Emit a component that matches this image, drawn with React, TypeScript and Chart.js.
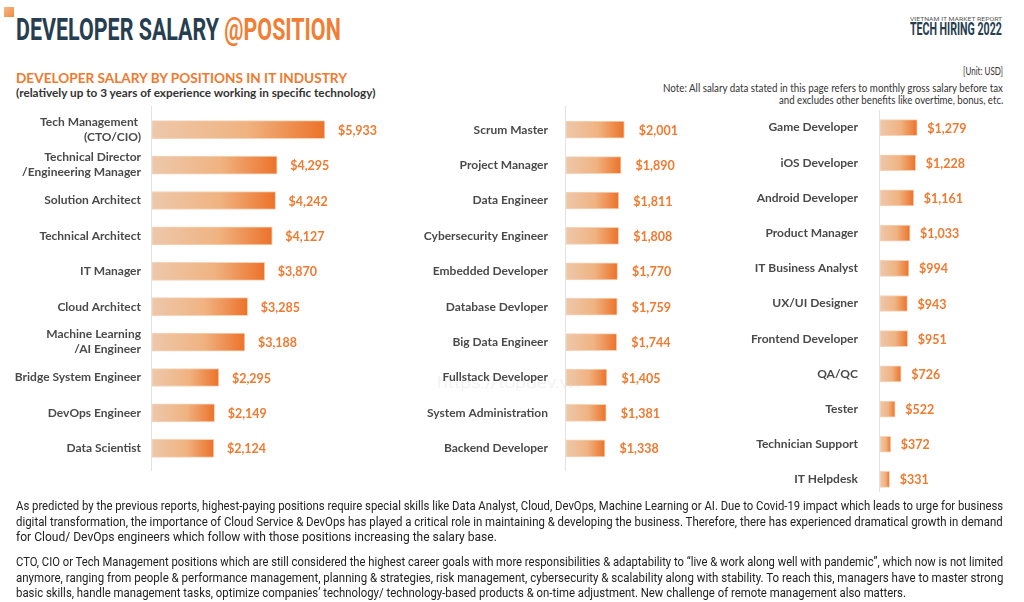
import React, { useEffect, useLayoutEffect, useRef, useState } from 'react';
import { Chart, registerables } from 'chart.js';

Chart.register(...registerables);

// ---------- DATA ----------
const col1Labels: (string | string[])[] = [
  ['Tech Management ', '(CTO/CIO)'],
  ['Technical Director', '/Engineering Manager'],
  'Solution Architect',
  'Technical Architect',
  'IT Manager',
  'Cloud Architect',
  ['Machine Learning', '/AI Engineer'],
  'Bridge System Engineer',
  'DevOps Engineer',
  'Data Scientist',
];
const col1Values = [5933, 4295, 4242, 4127, 3870, 3285, 3188, 2295, 2149, 2124];

const col2Labels = [
  'Scrum Master',
  'Project Manager',
  'Data Engineer',
  'Cybersecurity Engineer',
  'Embedded Developer',
  'Database Devloper',
  'Big Data Engineer',
  'Fullstack Developer',
  'System Administration',
  'Backend Developer',
];
const col2Values = [2001, 1890, 1811, 1808, 1770, 1759, 1744, 1405, 1381, 1338];

const col3Labels = [
  'Game Developer',
  'iOS Developer',
  'Android Developer',
  'Product Manager',
  'IT Business Analyst',
  'UX/UI Designer',
  'Frontend Developer',
  'QA/QC',
  'Tester',
  'Technician Support',
  'IT Helpdesk',
];
const col3Values = [1279, 1228, 1161, 1033, 994, 943, 951, 726, 522, 372, 331];

const XMAX = 7000;
const PLOT_W = 204;

const para1 = [
  'As predicted by the previous reports, highest-paying positions require special skills like Data Analyst, Cloud, DevOps, Machine Learning or AI. Due to Covid-19 impact which leads to urge for business',
  'digital transformation, the importance of Cloud Service & DevOps has played a critical role in maintaining & developing the business. Therefore, there has experienced dramatical growth in demand',
  'for Cloud/ DevOps engineers which follow with those positions increasing the salary base.',
];
const para2 = [
  'CTO, CIO or Tech Management positions which are still considered the highest career goals with more responsibilities & adaptability to \u201Clive & work along well with pandemic\u201D, which now is not limited',
  'anymore, ranging from people & performance management, planning & strategies, risk management, cybersecurity & scalability along with stability. To reach this, managers have to master strong',
  'basic skills, handle management tasks, optimize companies\u2019 technology/ technology-based products & on-time adjustment. New challenge of remote management also matters.',
];

// ---------- HELPERS ----------
type FitProps = {
  x: number;
  y: number;
  w: number;
  font?: string;
  size: number;
  weight?: number | string;
  color?: string;
  children: React.ReactNode;
};

function Fit({ x, y, w, font = 'Lato', size, weight = 400, color = '#333', children }: FitProps) {
  const ref = useRef<HTMLDivElement>(null);
  const [s, setS] = useState(1);
  useLayoutEffect(() => {
    const m = () => {
      const el = ref.current;
      if (el) {
        const nw = el.offsetWidth;
        if (nw > 0) setS(w / nw);
      }
    };
    m();
    if ((document as any).fonts && (document as any).fonts.ready) {
      (document as any).fonts.ready.then(m);
    }
  }, [w]);
  return (
    <div
      ref={ref}
      style={{
        position: 'absolute',
        left: x,
        top: y,
        whiteSpace: 'pre',
        fontFamily: font,
        fontSize: size,
        fontWeight: weight as any,
        color,
        lineHeight: 1,
        transform: `scaleX(${s})`,
        transformOrigin: 'left top',
      }}
    >
      {children}
    </div>
  );
}

type BarProps = {
  labels: (string | string[])[];
  values: number[];
  left: number;
  top: number;
  axisWidth: number;
  plotHeight: number;
  padTop: number;
  padBottom: number;
  padRight: number;
  thickness: number;
  tickPad: number;
  labelGap: number;
  axisTopExt: number;
  axisBottomExt: number;
};

function BarColumn(p: BarProps) {
  const ref = useRef<HTMLCanvasElement>(null);
  const width = p.axisWidth + PLOT_W + p.padRight;
  const height = p.padTop + p.plotHeight + p.padBottom;

  useEffect(() => {
    if (!ref.current) return;
    const axisLine = {
      id: 'axisLine',
      beforeDatasetsDraw(chart: any) {
        const { ctx, chartArea } = chart;
        ctx.save();
        ctx.strokeStyle = '#e2e2e2';
        ctx.lineWidth = 1;
        ctx.beginPath();
        ctx.moveTo(chartArea.left - 0.5, chartArea.top - p.axisTopExt);
        ctx.lineTo(chartArea.left - 0.5, chartArea.bottom + p.axisBottomExt);
        ctx.stroke();
        ctx.restore();
      },
    };
    const valueLabels = {
      id: 'valueLabels',
      afterDatasetsDraw(chart: any) {
        const { ctx } = chart;
        const meta = chart.getDatasetMeta(0);
        const data = chart.data.datasets[0].data as number[];
        ctx.save();
        ctx.fillStyle = '#ef7a30';
        ctx.font = 'bold 12.5px Lato';
        ctx.textAlign = 'left';
        ctx.textBaseline = 'middle';
        meta.data.forEach((bar: any, i: number) => {
          ctx.fillText('$' + data[i].toLocaleString('en-US'), bar.x + p.labelGap, bar.y + 1);
        });
        ctx.restore();
      },
    };

    const chart = new Chart(ref.current, {
      type: 'bar',
      data: {
        labels: p.labels as any,
        datasets: [
          {
            data: p.values,
            backgroundColor: (ctx: any) => {
              const c = ctx.chart;
              if (!c.chartArea || ctx.type !== 'data') return '#f0a060';
              const xs = c.scales.x;
              const x0 = xs.getPixelForValue(0);
              const x1 = xs.getPixelForValue(ctx.raw as number);
              const g = c.ctx.createLinearGradient(x0, 0, x1, 0);
              g.addColorStop(0, '#edc8ab');
              g.addColorStop(0.55, '#f0b381');
              g.addColorStop(1, '#ec722a');
              return g;
            },
            borderColor: '#f7d3b8',
            borderWidth: 1,
            borderSkipped: false,
            barThickness: p.thickness,
          } as any,
        ],
      },
      options: {
        indexAxis: 'y',
        animation: false,
        responsive: false,
        maintainAspectRatio: false,
        layout: { padding: { left: 0, right: p.padRight, top: p.padTop, bottom: p.padBottom } },
        plugins: { legend: { display: false }, tooltip: { enabled: false } },
        scales: {
          x: { display: false, min: 0, max: XMAX },
          y: {
            afterFit: (s: any) => {
              s.width = p.axisWidth;
              s.paddingTop = 0;
              s.paddingBottom = 0;
            },
            grid: { display: false, drawTicks: false },
            border: { display: false },
            ticks: {
              autoSkip: false,
              padding: p.tickPad,
              color: '#4a4a4a',
              font: { family: 'Lato', weight: 'bold', size: 12, lineHeight: 1.25 },
            },
          },
        },
      } as any,
      plugins: [axisLine, valueLabels],
    });
    return () => chart.destroy();
  }, []);

  return (
    <canvas
      ref={ref}
      width={width}
      height={height}
      style={{ position: 'absolute', left: p.left, top: p.top, width, height }}
    />
  );
}

// ---------- APP ----------
export default function App() {
  const baseTop = (b: number, size: number) => b - 0.8415 * size; // Roboto baseline offset with line-height 1
  const latoTop = (b: number, size: number) => b - 0.887 * size;
  const lineBase = [510, 525.5, 541];
  const line2Base = [566, 581.5, 597];
  const pSize = 13;

  return (
    <div
      style={{
        position: 'fixed',
        left: 0,
        top: 0,
        width: 1024,
        height: 602,
        background: '#ffffff',
        overflow: 'hidden',
      }}
    >
      {/* faint watermark */}
      <Fit x={437} y={baseTop(388, 17)} w={143} font="Roboto" size={17} weight={300} color="#efefef">
        https://topdev.vn
      </Fit>

      {/* header */}
      <div
        style={{
          position: 'absolute',
          left: 4,
          top: 7,
          width: 10,
          height: 10,
          background: 'linear-gradient(135deg, #f7b985, #f08a40)',
        }}
      />
      <Fit x={16} y={baseTop(40.3, 31)} w={325} font="Roboto" size={31} weight={700} color="#263e4f">
        DEVELOPER SALARY <span style={{ color: '#f07f35' }}>@POSITION</span>
      </Fit>
      <Fit x={910} y={baseTop(21, 6)} w={92} font="Roboto" size={6} weight={400} color="#555">
        VIETNAM IT MARKET REPORT
      </Fit>
      <Fit x={910} y={baseTop(36, 18.7)} w={92} font="Roboto" size={18.7} weight={700} color="#263e4f">
        TECH HIRING 2022
      </Fit>

      <Fit x={16} y={latoTop(83.3, 13)} w={331} size={13} weight={700} color="#ef7a30">
        DEVELOPER SALARY BY POSITIONS IN IT INDUSTRY
      </Fit>
      <Fit x={16} y={latoTop(97.6, 11.5)} w={359} size={11.5} weight={700} color="#333">
        (relatively up to 3 years of experience working in specific technology)
      </Fit>

      <Fit x={963} y={latoTop(76, 12)} w={40} size={12} color="#333">
        [Unit: USD]
      </Fit>
      <Fit x={663} y={latoTop(92.5, 12)} w={340} size={12} color="#333">
        Note: All salary data stated in this page refers to monthly gross salary before tax
      </Fit>
      <Fit x={779} y={latoTop(104.5, 12)} w={224} size={12} color="#333">
        and excludes other benefits like overtime, bonus, etc.
      </Fit>

      {/* charts */}
      <BarColumn
        labels={col1Labels}
        values={col1Values}
        left={0}
        top={102}
        axisWidth={152}
        plotHeight={354}
        padTop={10}
        padBottom={10}
        padRight={50}
        thickness={18}
        tickPad={11}
        labelGap={13}
        axisTopExt={6}
        axisBottomExt={5}
      />
      <BarColumn
        labels={col2Labels}
        values={col2Values}
        left={406}
        top={102}
        axisWidth={160}
        plotHeight={354}
        padTop={10}
        padBottom={10}
        padRight={50}
        thickness={17}
        tickPad={18}
        labelGap={14.5}
        axisTopExt={6}
        axisBottomExt={5}
      />
      <BarColumn
        labels={col3Labels}
        values={col3Values}
        left={720}
        top={100}
        axisWidth={160}
        plotHeight={387}
        padTop={10}
        padBottom={4}
        padRight={20}
        thickness={16}
        tickPad={22}
        labelGap={10}
        axisTopExt={0}
        axisBottomExt={-5}
      />

      {/* paragraphs */}
      {para1.map((t, i) => (
        <Fit
          key={'a' + i}
          x={16}
          y={baseTop(lineBase[i], pSize)}
          w={i === 2 ? 481 : 987}
          font="Roboto"
          size={pSize}
          color="#222"
        >
          {t}
        </Fit>
      ))}
      {para2.map((t, i) => (
        <Fit
          key={'b' + i}
          x={16}
          y={baseTop(line2Base[i], pSize)}
          w={i === 2 ? 890 : 987}
          font="Roboto"
          size={pSize}
          color="#222"
        >
          {t}
        </Fit>
      ))}
    </div>
  );
}
